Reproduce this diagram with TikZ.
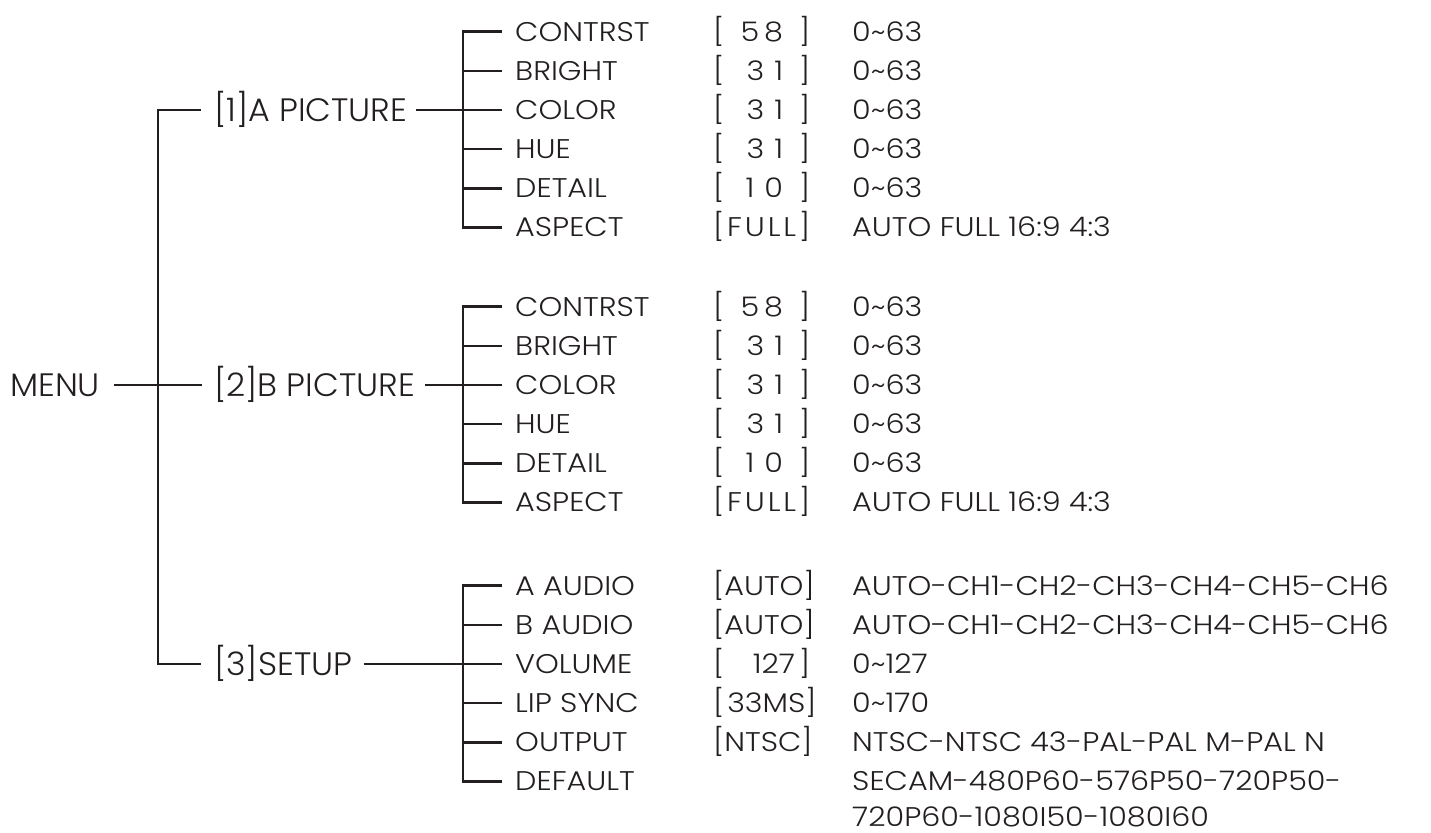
\documentclass[tikz,border=0pt]{standalone}
\usepackage{fontspec}
\IfFontExistsTF{Poppins Light}{\def\fam{Poppins Light}}{\def\fam{Poppins}}
\setmainfont{\fam}
\newfontfamily\smallfnt{\fam}[FakeStretch=1.12]
\newfontfamily\bigfnt{\fam}[FakeStretch=1.03]
\definecolor{ink}{RGB}{35,31,32}
\newcommand{\valbx}[1]{\makebox[97pt][s]{#1}}
\begin{document}
\begin{tikzpicture}[x=1pt,y=-1pt,
  big/.style={font=\bigfnt\fontsize{32.4}{36}\selectfont, text height=22.7pt, text depth=0pt, inner sep=0pt, anchor=west, text=ink},
  small/.style={font=\smallfnt\fontsize{27}{30}\selectfont, text height=18.9pt, text depth=0pt, inner sep=0pt, anchor=west, text=ink},
  wire/.style={draw=ink, line width=2.7pt}]
\useasboundingbox (0,0) rectangle (1431,832);
% level 0 and 1
\node[big] (m) at (10,385) {MENU};
\node[big] (a) at (214,110) {[1]A PICTURE};
\node[big] (b) at (214,385) {[2]B PICTURE};
\node[big] (s) at (214,664) {[3]SETUP};
\coordinate (ja) at (158,110);
\coordinate (js) at (158,664);
\draw[wire] ([xshift=-13pt]a.west) -- (ja) -- (js) -- ([xshift=-13pt]s.west);
\draw[wire] ([xshift=14pt]m.east) -- ([xshift=-12pt]b.west);
% picture groups
\foreach \g/\y in {a/110,b/385}{
  \foreach \lab/\val/\rng [count=\i] in {
    CONTRST/{[\hfill 5\hspace{5pt}8\hspace{16pt}]}/0\textasciitilde63,
    BRIGHT/{[\hfill 3\hspace{10pt}1\hspace{16pt}]}/0\textasciitilde63,
    COLOR/{[\hfill 3\hspace{10pt}1\hspace{16pt}]}/0\textasciitilde63,
    HUE/{[\hfill 3\hspace{10pt}1\hspace{16pt}]}/0\textasciitilde63,
    DETAIL/{[\hfill 1\hspace{10pt}0\hspace{16pt}]}/0\textasciitilde63,
    ASPECT/{[\hfill F\hfill U\hfill L\hfill L\hfill]}/AUTO FULL 16:9 4:3}{
    \pgfmathsetmacro\ry{\y+39.1*(\i-3)}
    \node[small] (\g\i) at (515,\ry) {\lab};
    \node[small] (\g v\i) at (713,\ry) {\valbx{\val}};
    \node[small] (\g r\i) at (852,\ry) {\rng};
  }
  \coordinate (\g k) at (463,\y);
  \draw[wire] ([xshift=-13pt]\g1.west) -| (\g k) |- ([xshift=-13pt]\g6.west);
  \foreach \i in {2,...,5}{
    \draw[wire] (\g k |- \g\i.west) -- ([xshift=-13pt]\g\i.west);
  }
}
\draw[wire] ([xshift=8pt]a.east) -- (ak);
\draw[wire] ([xshift=10pt]b.east) -- (bk);
% setup group
\node[small] (s1) at (515,585.8) {A AUDIO};
\node[small] (s2) at (515,624.9) {B AUDIO};
\node[small] (s3) at (515,664) {VOLUME};
\node[small] (s4) at (515,703.1) {LIP SYNC};
\node[small] (s5) at (515,742.2) {OUTPUT};
\node[small] (s6) at (515,781.3) {DEFAULT};
\node[small] (sv1) at (713,585.8) {\valbx{[\hfill AUTO\hfill]}};
\node[small] (sv2) at (713,624.9) {\valbx{[\hfill AUTO\hfill]}};
\node[small] (sv3) at (713,664) {\valbx{[\hfill 127\hspace{4pt}]}};
\node[small] (sv4) at (713,703.1) {\valbx{[\hspace{3pt}33MS\hfill]}};
\node[small] (sv5) at (713,742.2) {\valbx{[\hfill N\hfill T\hfill S\hfill C\hfill]}};
\node[small] (sr1) at (852,585.8) {AUTO-CH1-CH2-CH3-CH4-CH5-CH6};
\node[small] (sr2) at (852,624.9) {AUTO-CH1-CH2-CH3-CH4-CH5-CH6};
\node[small] (sr3) at (852,664) {0\textasciitilde127};
\node[small] (sr4) at (852,703.1) {0\textasciitilde170};
\node[small] (sr5) at (852,742.2) {NTSC-NTSC 43-PAL-PAL M-PAL N};
\node[small] (sr6) at (852,781.3) {SECAM-480P60-576P50-720P50-};
\node[small] (sr7) at (852,817.5) {720P60-1080I50-1080I60};
\coordinate (sk) at (463,664);
\draw[wire] ([xshift=-13pt]s1.west) -| (sk) |- ([xshift=-13pt]s6.west);
\foreach \i in {2,...,5}{
  \draw[wire] (sk |- s\i.west) -- ([xshift=-13pt]s\i.west);
}
\draw[wire] ([xshift=11pt]s.east) -- (sk);
\end{tikzpicture}
\end{document}
